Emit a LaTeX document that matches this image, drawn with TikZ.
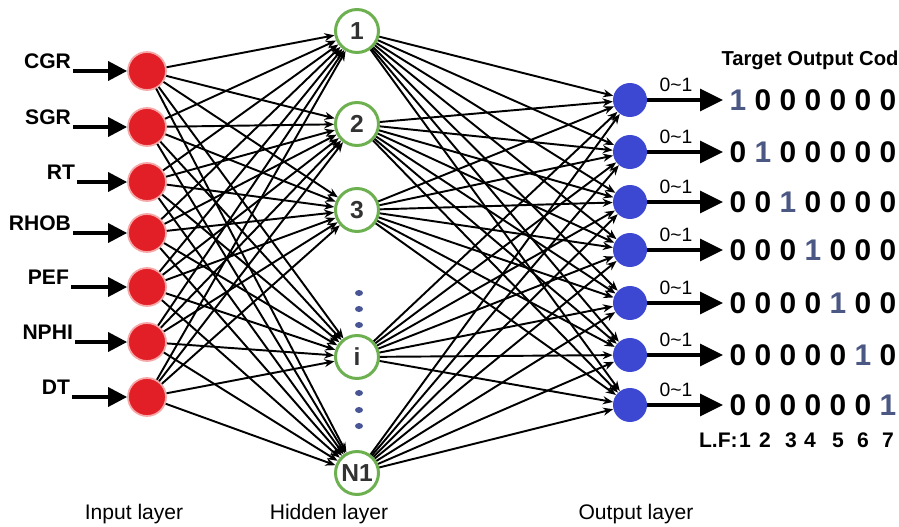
\documentclass[tikz,border=0pt]{standalone}
\usepackage{fontspec}
\setmainfont{Liberation Sans}
\usetikzlibrary{arrows.meta, shapes.geometric}
\definecolor{infill}{RGB}{226,30,38}
\definecolor{inglow}{RGB}{246,168,168}
\definecolor{outfill}{RGB}{60,72,210}
\definecolor{hidborder}{RGB}{108,176,80}
\definecolor{hidtext}{RGB}{50,50,50}
\definecolor{dotblue}{RGB}{72,86,150}
\definecolor{onecol}{RGB}{76,88,132}
\tikzset{
  inode/.style={circle, fill=infill, draw=inglow, line width=1pt, minimum size=0.76cm, inner sep=0pt},
  hnode/.style={circle, fill=white, draw=hidborder, line width=1.7pt, minimum size=0.86cm, inner sep=0pt,
                text=hidtext, font=\fontsize{14}{14}\selectfont\bfseries},
  onode/.style={circle, fill=outfill, minimum size=0.68cm, inner sep=0pt},
  dotnode/.style={ellipse, fill=dotblue, minimum width=0.16cm, minimum height=0.12cm, inner sep=0pt},
  inlab/.style={anchor=south east, inner sep=1pt, font=\fontsize{12}{12}\selectfont\bfseries},
  rng/.style={inner sep=1pt, font=\fontsize{11}{11}\selectfont},
  code/.style={inner sep=0pt, font=\fontsize{17}{17}\selectfont\bfseries},
  lf/.style={inner sep=0pt, font=\fontsize{12}{12}\selectfont\bfseries},
  hdr/.style={inner sep=0pt, font=\fontsize{11.5}{11.5}\selectfont\bfseries},
  layer/.style={inner sep=0pt, font=\fontsize{12}{12}\selectfont},
  edge/.style={-{Stealth[length=2mm, width=1.6mm]}, line width=1.1pt},
  bigarr/.style={-{Triangle[length=3.8mm, width=3.8mm]}, line width=2pt},
  outarr/.style={-{Triangle[length=4.6mm, width=4.4mm]}, line width=2pt}
}

\begin{document}
\begin{tikzpicture}[x=0.02cm, y=-0.02cm]
\useasboundingbox (0,0) rectangle (899,527);
% input layer
\node[inode] (in1) at (147,71) {};
\node[inode] (in2) at (147,127) {};
\node[inode] (in3) at (147,182) {};
\node[inode] (in4) at (147,233) {};
\node[inode] (in5) at (147,287) {};
\node[inode] (in6) at (147,342) {};
\node[inode] (in7) at (147,397) {};
\foreach \i/\name/\xx in {1/CGR/73,2/SGR/73,3/RT/77,4/RHOB/73,5/PEF/71,6/NPHI/75,7/DT/72}{
  \coordinate (s\i) at (\xx,0 |- in\i);
  \node[inlab] (l\i) at (s\i) {\name};
  \draw[bigarr] (s\i) -- (in\i);
}
% hidden layer
\node[hnode] (h1) at (357,31) {1};
\node[hnode] (h2) at (357,124) {2};
\node[hnode] (h3) at (357,210) {3};
\node[hnode] (hi) at (357,357) {i};
\node[hnode] (hN) at (357,473) {N1};
\foreach \yy [count=\k] in {293,309,325,393,410,426}
  \node[dotnode] (d\k) at (359,\yy) {};
% output layer
\node[onode] (out1) at (630,100) {};
\node[onode] (out2) at (630,152) {};
\node[onode] (out3) at (630,202) {};
\node[onode] (out4) at (630,250) {};
\node[onode] (out5) at (630,303) {};
\node[onode] (out6) at (630,355) {};
\node[onode] (out7) at (630,405) {};
% connections
\foreach \i in {1,...,7}
  \foreach \h in {h1,h2,h3,hi,hN}
    \draw[edge] (in\i) -- (\h);
\foreach \h in {h1,h2,h3,hi,hN}
  \foreach \o in {1,...,7}
    \draw[edge] (\h) -- (out\o);
% outputs and target codes
\node[hdr] (tgt) at (810,60) {Target Output Cod};
\foreach \r in {1,...,7}{
  \coordinate (e\r) at (723,0 |- out\r);
  \draw[outarr] (out\r) -- (e\r) node[rng, pos=0.38, above=3pt] (r\r) {0\textasciitilde1};
  \foreach \c in {1,...,7}{
    \ifnum\c=\r \def\dig{\textcolor{onecol}{1}}\else\def\dig{0}\fi
    \node[code] (c\r-\c) at ({713+25*\c},0 |- out\r) {\dig};
  }
}
\node[lf, anchor=east] (lft) at (738,440) {L.F:};
\foreach \c/\xx in {1/745,2/765,3/791,4/810,5/838,6/863,7/888}
  \node[lf] (lf\c) at (\xx,440) {\c};
% layer names
\node[layer] (inl) at (134,514) {Input layer};
\node[layer] (hidl) at (329,514) {Hidden layer};
\node[layer] (outl) at (636,514) {Output layer};
\end{tikzpicture}
\end{document}
